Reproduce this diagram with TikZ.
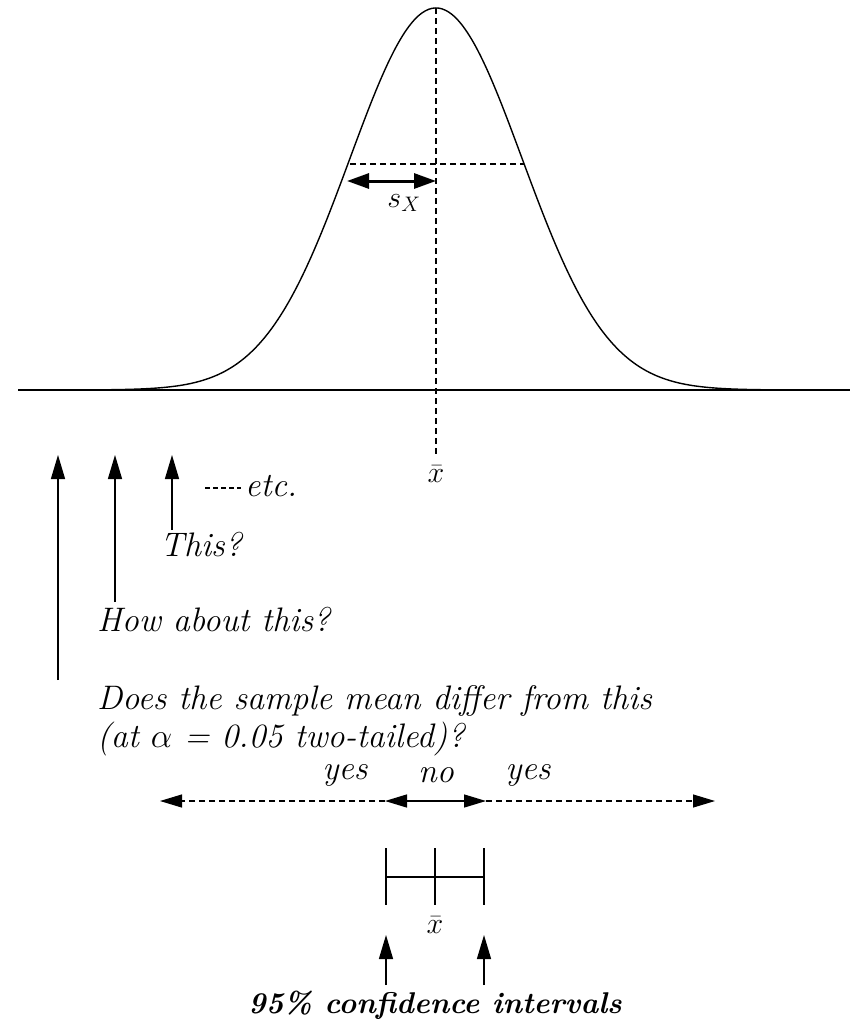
\RequirePackage{fix-cm}
\documentclass[tikz,border=0pt]{standalone}
\usetikzlibrary{arrows.meta,calc,positioning}

\begin{document}
\begin{tikzpicture}[x=1pt,y=-1pt,
    txt/.style={font=\fontsize{34}{38}\selectfont\itshape,inner sep=0pt},
    bigtxt/.style={font=\fontsize{30}{36}\selectfont\bfseries\itshape,inner sep=0pt},
    sml/.style={font=\fontsize{30}{34}\selectfont,inner sep=0pt},
    upar/.style={line width=1.4pt,-{Triangle[length=24pt,width=14pt]}},
    guide/.style={line width=1.2pt,dash pattern=on 6pt off 4pt},
    bar/.style={line width=1.4pt}]
  \useasboundingbox (0,0) rectangle (854,1028);

  % the curve and its axis
  \draw[line width=2pt] (18,390) -- (850,390);
  \draw[line width=1.4pt] plot[domain=104:770,samples=200,smooth]
    (\x,{390-382*exp(-0.5*((\x-436)/86)^2)});
  \coordinate (peak) at (436,8);
  \coordinate (mbot) at (436,455);
  \draw[guide] (peak) -- (mbot);
  \node[sml] (mean) at (436,474) {$\bar{x}$};
  \coordinate (sl) at (350,164);
  \coordinate (sr) at (524,164);
  \draw[guide] (sl) -- (sr);
  \coordinate (al) at (347,181);
  \coordinate (ar) at (436,181);
  \draw[line width=3pt,{Triangle[length=22pt,width=15pt]}-{Triangle[length=22pt,width=15pt]}] (al) -- (ar);
  \node[sml] (sx) at (404,203) {$s_{X}$};

  % candidate values
  \coordinate (t1) at (58,455);
  \coordinate (t2) at (115,455);
  \coordinate (t3) at (172,455);
  \coordinate (f1) at (58,680);
  \coordinate (f2) at (115,602);
  \coordinate (f3) at (172,530);
  \draw[upar] (f1) -- (t1);
  \draw[upar] (f2) -- (t2);
  \draw[upar] (f3) -- (t3);
  \coordinate (ds) at (205,488);
  \coordinate (de) at (241,488);
  \draw[line width=2.6pt,dash pattern=on 5pt off 3pt] (ds) -- (de);
  \node[txt,anchor=west] (etc) at (245,486) {etc.};
  \node[txt] (q3) at (201,545) {This?};
  \node[txt,anchor=west] (q2) at (97,620) {How about this?};
  \node[txt,anchor=west,align=left] (q1) at (97,721)
    {Does the sample mean differ from this\\(at $\alpha$ = 0.05 two-tailed)?};

  % decision line
  \coordinate (yl) at (160,801);
  \coordinate (nl) at (385,801);
  \coordinate (nr) at (486,801);
  \coordinate (yr) at (715,801);
  \draw[guide,-{Triangle[length=22pt,width=13pt]}] (nl) -- (yl);
  \draw[guide,-{Triangle[length=22pt,width=13pt]}] (nr) -- (yr);
  \draw[line width=1.4pt,{Triangle[length=22pt,width=13pt]}-{Triangle[length=22pt,width=13pt]}] (nl) -- (nr);
  \node[txt] (yes1) at (345,775) {yes};
  \node[txt] (no) at (436,775) {no};
  \node[txt] (yes2) at (528,775) {yes};

  % interval
  \coordinate (cl) at (386,877);
  \coordinate (cm) at (435,877);
  \coordinate (cr) at (484,877);
  \draw[bar] (cl) -- (cr);
  \draw[bar] ($(cl)+(0,-29)$) -- ($(cl)+(0,28)$);
  \draw[bar] ($(cm)+(0,-29)$) -- ($(cm)+(0,28)$);
  \draw[bar] ($(cr)+(0,-29)$) -- ($(cr)+(0,28)$);
  \node[sml] (mean2) at (435,925) {$\bar{x}$};
  \coordinate (ul) at (386,935);
  \coordinate (ur) at (484,935);
  \coordinate (vl) at (386,985);
  \coordinate (vr) at (484,985);
  \draw[upar] (vl) -- (ul);
  \draw[upar] (vr) -- (ur);
  \node[bigtxt] (ci) at (435,1005) {95\% confidence intervals};
\end{tikzpicture}
\end{document}
